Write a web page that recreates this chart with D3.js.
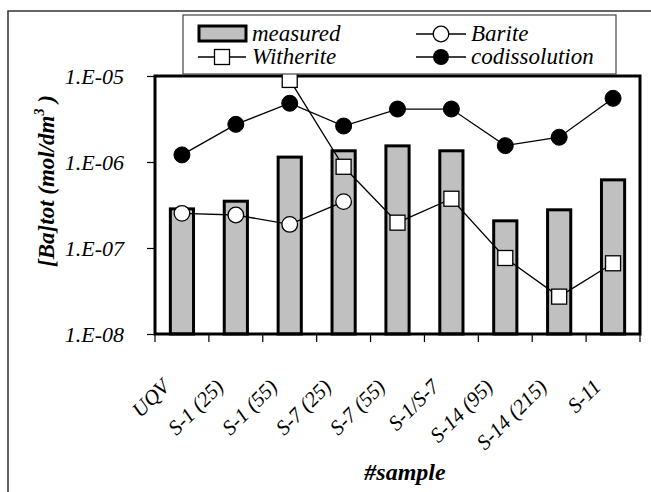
<!DOCTYPE html>
<html>
<head>
<meta charset="utf-8">
<script src="https://cdn.jsdelivr.net/npm/d3@7"></script>
</head>
<body style="margin:0">
<svg id="chart" width="651" height="492"></svg>
<script>
// Samples along the x axis
const samples = ["UQV", "S-1 (25)", "S-1 (55)", "S-7 (25)", "S-7 (55)", "S-1/S-7", "S-14 (95)", "S-14 (215)", "S-11"];

// Total Ba concentration, mol/dm3 (null = not computed)
const measured      = [2.85e-7, 3.5e-7, 1.14e-6, 1.35e-6, 1.54e-6, 1.35e-6, 2.07e-7, 2.78e-7, 6.2e-7];
const barite        = [2.53e-7, 2.42e-7, 1.88e-7, 3.46e-7, null, null, null, null, null];
const witherite     = [null, null, 9.0e-6, 8.8e-7, 1.97e-7, 3.74e-7, 7.65e-8, 2.72e-8, 6.64e-8];
const codissolution = [1.21e-6, 2.74e-6, 4.82e-6, 2.62e-6, 4.13e-6, 4.13e-6, 1.55e-6, 1.94e-6, 5.5e-6];

// Axis ticks
const yTicks = [1e-8, 1e-7, 1e-6, 1e-5];
const yTickLabels = ["1.E-08", "1.E-07", "1.E-06", "1.E-05"];

const FONT = "Liberation Serif";

const svg = d3.select("#chart");
const plot = { left: 155, right: 640, top: 76, bottom: 334 };

// Outer frame
svg.append("rect")
  .attr("x", 8).attr("y", 11).attr("width", 660).attr("height", 500)
  .attr("fill", "none").attr("stroke", "#333").attr("stroke-width", 1.5);

const x = d3.scaleBand().domain(samples).range([plot.left, plot.right]);
const y = d3.scaleLog().domain([1e-8, 1e-5]).range([plot.bottom, plot.top]);

// Bars: measured concentration
const barW = x.bandwidth() * 0.43;
svg.append("g").selectAll("rect")
  .data(samples.map((s, i) => ({ s, v: measured[i] })))
  .join("rect")
  .attr("x", d => x(d.s) + (x.bandwidth() - barW) / 2)
  .attr("y", d => y(d.v))
  .attr("width", barW)
  .attr("height", d => y(1e-8) - y(d.v))
  .attr("fill", "#c0c0c0")
  .attr("stroke", "#000")
  .attr("stroke-width", 3);

// Plot frame
svg.append("rect")
  .attr("x", plot.left).attr("y", plot.top)
  .attr("width", plot.right - plot.left).attr("height", plot.bottom - plot.top)
  .attr("fill", "none").attr("stroke", "#000").attr("stroke-width", 3);

// Y axis
const yAxis = d3.axisLeft(y)
  .tickValues(yTicks)
  .tickFormat((d, i) => yTickLabels[i])
  .tickSize(8)
  .tickPadding(23);
const gy = svg.append("g").attr("transform", `translate(${plot.left},0)`).call(yAxis)
  .attr("font-family", FONT).attr("font-size", 22);
gy.select(".domain").remove();
gy.selectAll(".tick line").attr("stroke", "#000").attr("stroke-width", 1.2);
gy.selectAll(".tick text")
  .attr("font-style", "italic")
  .attr("fill", "#000");

// X axis: ticks between categories
const bounds = samples.map(s => x(s)).concat([plot.right]);
svg.append("g").selectAll("line")
  .data(bounds)
  .join("line")
  .attr("x1", d => d).attr("x2", d => d)
  .attr("y1", plot.bottom).attr("y2", plot.bottom + 8)
  .attr("stroke", "#000").attr("stroke-width", 1.2);

svg.append("g").selectAll("text")
  .data(samples)
  .join("text")
  .attr("transform", d => `translate(${x(d) + x.bandwidth() / 2 - 11},${388}) rotate(-45)`)
  .attr("text-anchor", "end")
  .attr("font-family", FONT)
  .attr("font-style", "italic")
  .attr("font-size", 21)
  .attr("fill", "#000")
  .text(d => d);

// Series lines and markers
const line = d3.line()
  .x(d => x(d.s) + x.bandwidth() / 2)
  .y(d => y(d.v));

function series(values) {
  return samples.map((s, i) => ({ s, v: values[i] })).filter(d => d.v !== null);
}

[barite, witherite, codissolution].forEach(vals => {
  svg.append("path")
    .datum(series(vals))
    .attr("d", line)
    .attr("fill", "none")
    .attr("stroke", "#000")
    .attr("stroke-width", 1.3);
});

// Barite: open circles
svg.append("g").selectAll("circle")
  .data(series(barite))
  .join("circle")
  .attr("cx", d => x(d.s) + x.bandwidth() / 2)
  .attr("cy", d => y(d.v))
  .attr("r", 7.8)
  .attr("fill", "#fff").attr("stroke", "#000").attr("stroke-width", 1.3);

// Witherite: open squares
const sq = 15;
svg.append("g").selectAll("rect")
  .data(series(witherite))
  .join("rect")
  .attr("x", d => x(d.s) + x.bandwidth() / 2 - sq / 2)
  .attr("y", d => y(d.v) - sq / 2)
  .attr("width", sq).attr("height", sq)
  .attr("fill", "#fff").attr("stroke", "#000").attr("stroke-width", 1.3);

// Codissolution: filled circles
svg.append("g").selectAll("circle")
  .data(series(codissolution))
  .join("circle")
  .attr("cx", d => x(d.s) + x.bandwidth() / 2)
  .attr("cy", d => y(d.v))
  .attr("r", 8)
  .attr("fill", "#000").attr("stroke", "#000").attr("stroke-width", 1);

// Axis titles
const yTitle = svg.append("text")
  .attr("transform", "translate(54,181) rotate(-90)")
  .attr("text-anchor", "middle")
  .attr("font-family", FONT)
  .attr("font-style", "italic")
  .attr("font-weight", "bold")
  .attr("font-size", 23)
  .attr("fill", "#000");
yTitle.append("tspan").text("[Ba]tot (mol/dm");
yTitle.append("tspan").attr("font-size", 14).attr("dy", -10).text("3");
yTitle.append("tspan").attr("dy", 10).text(" )");

svg.append("text")
  .attr("x", 405).attr("y", 480)
  .attr("text-anchor", "middle")
  .attr("font-family", FONT)
  .attr("font-style", "italic")
  .attr("font-weight", "bold")
  .attr("font-size", 24)
  .attr("fill", "#000")
  .text("#sample");

// Legend
const lg = svg.append("g");
lg.append("rect")
  .attr("x", 183).attr("y", 15).attr("width", 433).attr("height", 59)
  .attr("fill", "#fff").attr("stroke", "#444").attr("stroke-width", 1.2);

function legendText(tx, ty, label) {
  lg.append("text").attr("x", tx).attr("y", ty)
    .attr("font-family", FONT).attr("font-style", "italic")
    .attr("font-size", 23).attr("fill", "#000")
    .text(label);
}

lg.append("rect")
  .attr("x", 199).attr("y", 26).attr("width", 47).attr("height", 15)
  .attr("fill", "#c0c0c0").attr("stroke", "#000").attr("stroke-width", 3);
legendText(252, 41, "measured");

lg.append("line").attr("x1", 198).attr("x2", 246).attr("y1", 57).attr("y2", 57)
  .attr("stroke", "#000").attr("stroke-width", 1.3);
lg.append("rect").attr("x", 222 - sq / 2).attr("y", 57 - sq / 2).attr("width", sq).attr("height", sq)
  .attr("fill", "#fff").attr("stroke", "#000").attr("stroke-width", 1.3);
legendText(252, 64, "Witherite");

lg.append("line").attr("x1", 416).attr("x2", 466).attr("y1", 34).attr("y2", 34)
  .attr("stroke", "#000").attr("stroke-width", 1.3);
lg.append("circle").attr("cx", 441).attr("cy", 34).attr("r", 7.8)
  .attr("fill", "#fff").attr("stroke", "#000").attr("stroke-width", 1.3);
legendText(471, 41, "Barite");

lg.append("line").attr("x1", 416).attr("x2", 466).attr("y1", 57).attr("y2", 57)
  .attr("stroke", "#000").attr("stroke-width", 1.3);
lg.append("circle").attr("cx", 441).attr("cy", 57).attr("r", 8)
  .attr("fill", "#000");
legendText(471, 64, "codissolution");
</script>
</body>
</html>
